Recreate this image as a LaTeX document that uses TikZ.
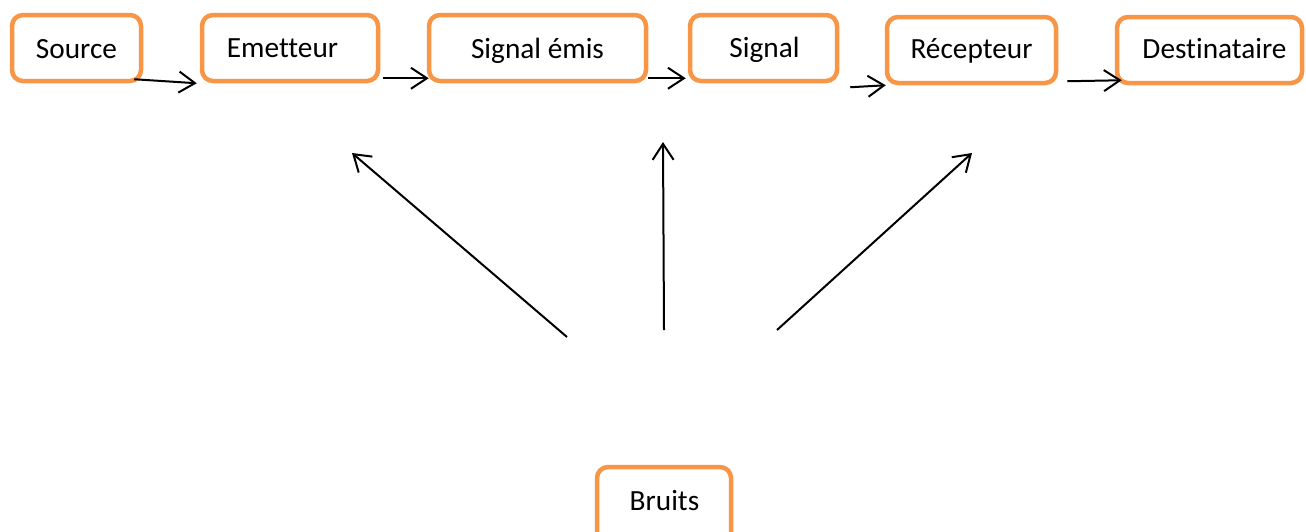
\documentclass[tikz,border=0pt]{standalone}
\usepackage{fontspec}
\setmainfont{Carlito}[RawFeature={-liga}]
\usetikzlibrary{arrows.meta,calc}
\definecolor{boxorange}{HTML}{F79646}
\tikzset{
  obox/.style={draw=boxorange, line width=4.5pt, rounded corners=11pt, fill=white, inner sep=0pt},
  lbl/.style={anchor=base, inner sep=0pt, font=\fontsize{29.3}{35}\selectfont},
  conn/.style={line width=2pt, -{Straight Barb[length=16pt,width=21pt,line width=2pt]}}
}
\begin{document}
\begin{tikzpicture}[x=1pt,y=-1pt]
\useasboundingbox (0,0) rectangle (1306,531);
% boxes
\node[obox, minimum width=129pt, minimum height=66pt] (src) at (76.5,48) {};
\node[obox, minimum width=176pt, minimum height=66pt] (emt) at (290,48) {};
\node[obox, minimum width=217pt, minimum height=66pt] (sige) at (537.5,48) {};
\node[obox, minimum width=147pt, minimum height=66pt] (sig) at (763.5,48) {};
\node[obox, minimum width=169pt, minimum height=66pt] (rec) at (971.5,50) {};
\node[obox, minimum width=185pt, minimum height=66pt] (dst) at (1209.5,50) {};
\node[obox, minimum width=134pt, minimum height=80pt] (bru) at (664,507) {};
% labels
\node[lbl] (tsrc) at (76.5,58) {Source};
\node[lbl] (temt) at (282.5,57) {Emetteur};
\node[lbl] (tsige) at (537.5,58) {Signal émis};
\node[lbl] (tsig) at (764.5,57) {Signal};
\node[lbl] (trec) at (971.5,58) {Récepteur};
\node[lbl] (tdst) at (1214.5,58) {Destinataire};
\node[lbl] (tbru) at (664.5,510) {Bruits};
% chain connectors
\draw[conn] ($(src.south east)+(-9,-4)$) -- ($(emt.south west)+(-3,0)$);
\draw[conn] ($(emt.south east)+(3,-5)$) -- ($(sige.south west)+(2,-5)$);
\draw[conn] ($(sige.south east)+(0,-5)$) -- ($(sig.south west)+(-2,-5)$);
\draw[conn] ($(sig.south east)+(11,4)$) -- ($(rec.south west)+(1,0)$);
\draw[conn] ($(rec.south east)+(9,-4)$) -- ($(dst.south west)+(7,-5)$);
% noise arrows (free ends)
\coordinate (n1s) at (567,337);
\coordinate (n1e) at (352,153);
\coordinate (n2s) at (664,330);
\coordinate (n2e) at (663,142);
\coordinate (n3s) at (777,330);
\coordinate (n3e) at (972,153);
\draw[conn] (n1s) -- (n1e);
\draw[conn] (n2s) -- (n2e);
\draw[conn] (n3s) -- (n3e);
\end{tikzpicture}
\end{document}
